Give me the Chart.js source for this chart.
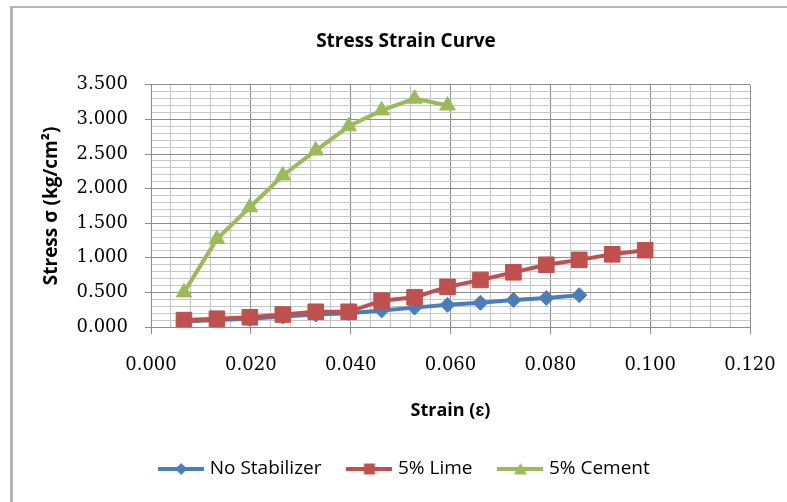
<!DOCTYPE html>
<html>
<head>
<meta charset="utf-8">
<script src="https://cdn.jsdelivr.net/npm/chart.js@4/dist/chart.umd.min.js"></script>
<style>
  html, body { margin: 0; padding: 0; background: #fff; }
  .wrap { position: relative; width: 787px; height: 502px; overflow: hidden; }
  .frame { position: absolute; left: 10px; top: 6px; width: 800px; height: 520px;
           border-top: 2px solid #b4b4b4; border-left: 3px solid #b4b4b4; }
  canvas { position: absolute; left: 0; top: 0; }
</style>
</head>
<body>
<div class="wrap">
  <div class="frame"></div>
  <canvas id="chart" width="787" height="502"></canvas>
</div>
<script>
// ── Data ──────────────────────────────────────────────
const seriesNames = ['No Stabilizer', '5% Lime', '5% Cement'];

const strainNoStab = [0.0066, 0.0132, 0.0198, 0.0264, 0.0330, 0.0396, 0.0462, 0.0528, 0.0594, 0.0660, 0.0726, 0.0792, 0.0858];
const stressNoStab = [0.08, 0.10, 0.12, 0.15, 0.18, 0.20, 0.24, 0.28, 0.32, 0.35, 0.39, 0.42, 0.46];

const strainLime = [0.0066, 0.0132, 0.0198, 0.0264, 0.0330, 0.0396, 0.0462, 0.0528, 0.0594, 0.0660, 0.0726, 0.0792, 0.0858, 0.0924, 0.0990];
const stressLime = [0.10, 0.12, 0.14, 0.18, 0.22, 0.22, 0.38, 0.43, 0.58, 0.68, 0.79, 0.90, 0.97, 1.05, 1.11];

const strainCement = [0.0066, 0.0132, 0.0198, 0.0264, 0.0330, 0.0396, 0.0462, 0.0528, 0.0594];
const stressCement = [0.50, 1.27, 1.73, 2.19, 2.55, 2.90, 3.13, 3.30, 3.20];

const xTicksMajor = [0, 0.02, 0.04, 0.06, 0.08, 0.10, 0.12];
const yTicksMajor = [0, 0.5, 1.0, 1.5, 2.0, 2.5, 3.0, 3.5];

// ── Styles ────────────────────────────────────────────
const colors = ['#4a7ebb', '#c0504d', '#9bbb59'];
const markers = ['rectRot', 'rect', 'triangle'];
const markerRadius = [7.5, 11, 9];
const SANS = "'Open Sans', sans-serif";
const SERIF = "'DejaVu Serif', serif";
const majorGrid = '#8c8c8c';
const minorGrid = '#c6c6c6';

const toPoints = (xs, ys) => xs.map((x, i) => ({ x, y: ys[i] }));
const isMajor = (v, list) => list.some(m => Math.abs(m - v) < 1e-6);

// small line+marker icons for the legend
function legendIcon(color, style) {
  const c = document.createElement('canvas');
  c.width = 46; c.height = 18;
  const g = c.getContext('2d');
  g.strokeStyle = color; g.lineWidth = 4;
  g.beginPath(); g.moveTo(0, 9); g.lineTo(46, 9); g.stroke();
  g.fillStyle = color;
  g.beginPath();
  if (style === 'rectRot') { g.moveTo(23, 3); g.lineTo(29, 9); g.lineTo(23, 15); g.lineTo(17, 9); }
  else if (style === 'rect') { g.rect(17.5, 3.5, 11, 11); }
  else { g.moveTo(23, 3); g.lineTo(29.5, 14.5); g.lineTo(16.5, 14.5); }
  g.closePath(); g.fill();
  return c;
}
const legendIcons = colors.map((c, i) => legendIcon(c, markers[i]));

const dataSets = [toPoints(strainNoStab, stressNoStab), toPoints(strainLime, stressLime), toPoints(strainCement, stressCement)];

new Chart(document.getElementById('chart'), {
  type: 'scatter',
  data: {
    datasets: dataSets.map((pts, i) => ({
      label: seriesNames[i],
      data: pts,
      showLine: true,
      borderColor: colors[i],
      backgroundColor: colors[i],
      borderWidth: 4,
      pointStyle: markers[i],
      pointRadius: markerRadius[i],
      pointBorderWidth: 1,
      pointBorderColor: colors[i],
      pointBackgroundColor: colors[i],
      order: 3 - i,
      yAxisID: 'y',
    })),
  },
  options: {
    responsive: false,
    animation: false,
    layout: { padding: { left: 25, right: 0, top: 0, bottom: 13.5 } },
    plugins: {
      tooltip: { enabled: false },
      title: {
        display: true,
        text: 'Stress Strain Curve',
        color: '#000',
        font: { family: SANS, size: 19, weight: 'bold' },
        padding: { top: 30, bottom: 32 },
      },
      legend: {
        position: 'bottom',
        labels: {
          usePointStyle: true,
          pointStyleWidth: 38,
          padding: 29,
          color: '#000',
          font: { family: SANS, size: 19 },
          generateLabels: chart => chart.data.datasets.map((ds, i) => ({
            text: ds.label,
            pointStyle: legendIcons[i],
            fillStyle: 'transparent',
            strokeStyle: 'transparent',
            lineWidth: 0,
            fontColor: '#000',
            hidden: false,
            datasetIndex: i,
          })),
        },
      },
    },
    scales: {
      x: {
        type: 'linear',
        min: 0, max: 0.12,
        // fixed height; labels may overhang the plot edges freely
        afterFit: s => { s.height = 103.5; s.paddingLeft = 0; s.paddingRight = 0; },
        border: { color: majorGrid, width: 1 },
        grid: {
          color: c => isMajor(c.tick.value, xTicksMajor) ? majorGrid : minorGrid,
          tickColor: c => isMajor(c.tick.value, xTicksMajor) ? majorGrid : 'transparent',
          tickLength: 7,
        },
        ticks: {
          stepSize: 0.004,
          autoSkip: false,
          maxRotation: 0,
          padding: 21,
          color: '#000',
          font: { family: SERIF, size: 18 },
          callback: v => isMajor(v, xTicksMajor) ? v.toFixed(3) : '',
        },
        title: {
          display: true,
          text: 'Strain (\u025B)',
          color: '#000',
          font: { family: SANS, size: 18, weight: 'bold' },
          padding: { top: 0, bottom: 9 },
        },
      },
      y: {
        type: 'linear',
        position: 'left',
        min: 0, max: 3.5,
        afterFit: s => { s.width = 126; },
        border: { color: majorGrid, width: 1 },
        grid: {
          color: c => isMajor(c.tick.value, yTicksMajor) ? majorGrid : minorGrid,
          tickColor: c => isMajor(c.tick.value, yTicksMajor) ? majorGrid : 'transparent',
          tickLength: 6,
        },
        ticks: {
          stepSize: 0.1,
          autoSkip: false,
          padding: 17,
          color: '#000',
          font: { family: SERIF, size: 18 },
          callback: v => isMajor(v, yTicksMajor) ? v.toFixed(3) : '',
        },
        title: {
          display: true,
          text: 'Stress \u03C3 (kg/cm\u00B2)',
          color: '#000',
          font: { family: SANS, size: 19, weight: 'bold' },
          padding: { top: 15, bottom: 0 },
        },
      },
      yRight: {
        type: 'linear',
        position: 'right',
        display: true,
        afterFit: s => { s.width = 37; },
        grid: { display: false, drawTicks: false },
        border: { display: false },
        ticks: { display: false },
      },
    },
  },
});
</script>
</body>
</html>
